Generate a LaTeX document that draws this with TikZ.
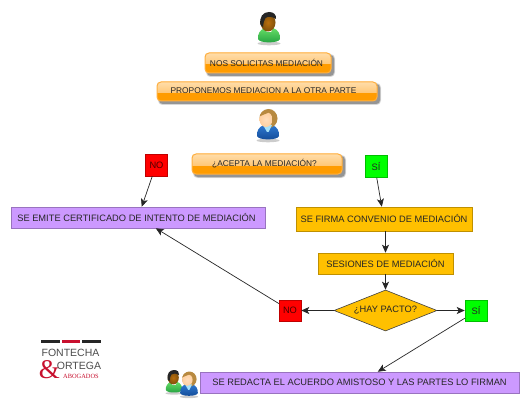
\documentclass[tikz,border=0pt]{standalone}
\usepackage{fontspec}
\setmainfont{Liberation Sans}
\newfontfamily\logofont{Liberation Sans}
\newfontfamily\logoserif{Liberation Serif}
\usetikzlibrary{shapes.geometric,arrows.meta,calc}
\definecolor{purp}{HTML}{CC99FF}
\definecolor{gold}{HTML}{FFC000}
\definecolor{ored}{HTML}{FF0000}
\definecolor{ogreen}{HTML}{00FF00}
\definecolor{orng}{HTML}{FF9C00}
\definecolor{ltop}{HTML}{FFC878}
\definecolor{ltopb}{HTML}{FFDDAA}
\definecolor{lborder}{HTML}{FFB040}
\definecolor{logored}{HTML}{C8102E}
\definecolor{gbody}{HTML}{66DD66}
\definecolor{gbodyd}{HTML}{22A040}
\definecolor{bbody}{HTML}{2E78D0}
\definecolor{bbodyd}{HTML}{124A96}
\definecolor{skind}{HTML}{A86A10}
\definecolor{skinl}{HTML}{FFD0A0}
\definecolor{hairt}{HTML}{B88A40}
\tikzset{
  x=1pt,y=-1pt,
  flat/.style={draw=#1!75!black,line width=.5pt,fill=#1,inner sep=0pt,text=black!85,font=\fontsize{9.3}{10}\selectfont},
  conn/.style={draw=black!85,line width=.7pt,-{Stealth[length=8pt,width=7pt,inset=2pt]}},
  txt/.style={text=black!85,inner sep=0pt,font=\fontsize{8.35}{10}\selectfont},
}
% glossy box: #1 name, #2 x1, #3 y1, #4 x2, #5 y2, #6 text offset, #7 text
\newcommand{\glossy}[7]{
  \foreach \o/\op in {3/.10,2/.16,1/.22}{
    \fill[black,opacity=\op,rounded corners=4pt] (#2+2.5-\o/2,#3+2.5-\o/2) rectangle (#4+2.5+\o/2,#5+2.5+\o/2);}
  \fill[orng,rounded corners=4pt] (#2,#3) rectangle (#4,#5);
  \begin{scope}
    \clip[rounded corners=4pt] (#2,#3) rectangle (#4,#5);
    \fill[top color=ltopb,bottom color=ltop] (#2,#3) rectangle (#4,{(#3+#5)/2+1});
  \end{scope}
  \draw[lborder,line width=1pt,rounded corners=4pt] (#2,#3) rectangle (#4,#5);
  \node[txt] (#1) at ({(#2+#4)/2+#6},{(#3+#5)/2-.5}) {#7};
}
\newcommand{\bodyshape}[2]{%
  \fill[black,opacity=.2] (0,31.5) ellipse [x radius=11.5,y radius=1.8];
  \shade[top color=#1,bottom color=#2] (-11,27) .. controls (-11.5,22) and (-9,17.5) .. (-4,16) -- (4,16) .. controls (9,17.5) and (11.5,22) .. (11,27) .. controls (10,31.5) and (-10,31.5) .. (-11,27) -- cycle;}
\newcommand{\mandraw}{%
  \bodyshape{gbody}{gbodyd}
  \fill[white] (-5,16) -- (4,16) -- (2,20) -- (-2,20) -- cycle;
  \shade[inner color=skind!80!orange,outer color=skind!75!black] (-1,10.5) ellipse [x radius=7.5,y radius=9];
  \fill[black!85] (-8.5,13) .. controls (-10,5) and (-6,0) .. (0,0) .. controls (5,0) and (7.5,3) .. (7,7) .. controls (3,4.5) and (-1,4) .. (-3.5,6) .. controls (-5,8) and (-5.5,11) .. (-6,15) -- cycle;}
\newcommand{\womandraw}{%
  \bodyshape{bbody}{bbodyd}
  \fill[hairt] (0.5,9.5) ellipse [x radius=9,y radius=9.5];
  \fill[cyan!35] (-5,16) -- (4,16) -- (0.5,23) -- (-1,23) -- cycle;
  \shade[inner color=skinl!70!white,outer color=skinl] (-2,10.5) ellipse [x radius=6.5,y radius=7.5];
  \fill[hairt] (-8.5,7.5) .. controls (-7,1.5) and (-2,0) .. (4,1) .. controls (2,4) and (-4,5) .. (-8.5,7.5) -- cycle;}
\begin{document}
\begin{tikzpicture}
\useasboundingbox (0,0) rectangle (530,417);
\fill[white] (0,0) rectangle (530,417);

\begin{scope}[shift={(269,12)}]\mandraw\end{scope}

\glossy{boxa}{205}{53}{331}{73}{-1.5}{NOS SOLICITAS MEDIACIÓN}
\glossy{boxb}{157}{82}{377}{101}{-3.5}{PROPONEMOS MEDIACION A LA OTRA PARTE}

\begin{scope}[shift={(268,109)}]\womandraw\end{scope}

\glossy{boxc}{192}{154}{342}{174}{-2.5}{¿ACEPTA LA MEDIACIÓN?}

\node[flat=ored,minimum width=22pt,minimum height=22pt,text=black!70!red] (no1) at (156.5,165) {NO};
\node[flat=ogreen,minimum width=22pt,minimum height=22pt] (si1) at (376,166.5) {SÍ};
\node[flat=purp,minimum width=254pt,minimum height=21pt] (cert) at (138,217.5) {\hspace{-3pt}SE EMITE CERTIFICADO DE INTENTO DE MEDIACIÓN};
\node[flat=gold,minimum width=176pt,minimum height=24pt] (firma) at (384,219) {SE FIRMA CONVENIO DE MEDIACIÓN};
\node[flat=gold,minimum width=135pt,minimum height=21pt] (ses) at (385.5,263.5) {SESIONES DE MEDIACIÓN};
\node[diamond,draw=black!75,line width=.6pt,fill=gold,minimum width=103pt,minimum height=41pt,inner sep=0pt,aspect=2.5,text=black!85,font=\fontsize{9.3}{10}\selectfont] (pacto) at (385.5,310.5) {¿HAY PACTO?};
\node[flat=ored,minimum width=22pt,minimum height=21pt,text=black!70!red] (no2) at (290,310.5) {NO};
\node[flat=ogreen,minimum width=22pt,minimum height=21pt] (si2) at (476,310.5) {SÍ};
\node[flat=purp,minimum width=319pt,minimum height=21pt] (acu) at (359.5,382.5) {SE REDACTA EL ACUERDO AMISTOSO Y LAS PARTES LO FIRMAN};

\draw[conn] ($(no1.south west)+(7,0)$) -- ($(cert.north west)+(131,0)$);
\draw[conn] ($(si1.south west)+(12,0)$) -- ($(firma.north west)+(86,0)$);
\draw[conn] (firma.south -| ses.north) -- (ses.north);
\draw[conn] (ses.south) -- (pacto.north);
\draw[conn] (pacto.west) -- (no2.east);
\draw[conn] (pacto.east) -- (si2.west);
\draw[conn] ($(no2.west)+(0,-7)$) -- ($(cert.south west)+(145,0)$);
\draw[conn] ($(si2.south west)+(0,-3)$) -- ($(acu.north west)+(178,0)$);

% couple icon
\begin{scope}[shift={(174,370)},scale=.74]\mandraw\end{scope}
\begin{scope}[shift={(189,371.5)},scale=.8]\womandraw\end{scope}

% logo
\fill[black!85] (41,340) rectangle (59.5,342.5);
\fill[logored] (62,340) rectangle (80,342.5);
\fill[black!85] (82,340) rectangle (100.5,342.5);
\node[inner sep=0pt,text=black!70,font=\fontsize{10.5}{12}\logofont\selectfont] (lf) at (70.5,353) {FONTECHA};
\node[inner sep=0pt,text=logored,font=\fontsize{27}{28}\logoserif\selectfont] (lamp) at (49.5,370) {\&};
\node[inner sep=0pt,text=black!70,font=\fontsize{10.5}{12}\logofont\selectfont] (lo) at (79,366) {ORTEGA};
\node[inner sep=0pt,text=logored,font=\fontsize{6.4}{7}\logoserif\selectfont] (la) at (81,376.5) {ABOGADOS};
\end{tikzpicture}
\end{document}
